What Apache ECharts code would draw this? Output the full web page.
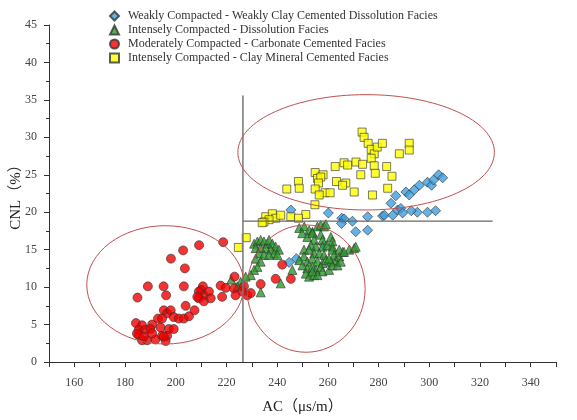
<!DOCTYPE html>
<html>
<head>
<meta charset="utf-8">
<script src="https://cdn.jsdelivr.net/npm/echarts@6/dist/echarts.min.js"></script>
<style>
  html, body { margin: 0; padding: 0; background: #fff; }
  #chart { width: 577px; height: 420px; }
</style>
</head>
<body>
<div id="chart"></div>
<script>
// series names (legend order)
const seriesNames = [
  'Weakly Compacted - Weakly Clay Cemented Dissolution Facies',
  'Intensely Compacted - Dissolution Facies',
  'Moderately Compacted - Carbonate Cemented Facies',
  'Intensely Compacted - Clay Mineral Cemented Facies'
]

// [AC, CNL]
const weaklyClay = [
  [245.4, 20.3], [260.2, 19.9], [265.5, 19.2], [266.4, 19.1], [265.4, 18.5], [269.7, 18.8],
  [271, 17.4], [275.7, 19.4], [275.7, 17.6], [281.6, 19.5], [282.3, 19.6], [285.6, 19.6],
  [284.9, 21.2], [286.8, 22.2], [287.5, 20.3], [288.8, 20.5], [289.5, 19.9], [290.8, 22.7],
  [292.1, 22.3], [294.1, 23.0], [296.1, 23.6], [299.3, 24.0], [300.9, 23.6], [301.7, 24.3],
  [303.7, 25.0], [305.3, 24.6], [302.5, 20.2], [299.3, 20.0], [295.3, 20.0], [292.9, 20.2],
  [244.7, 13.3], [247.6, 13.8], [258.5, 15.6]
]

const dissolution = [
  [230.9, 15.8], [232.2, 16.1], [233.5, 16.3], [234.8, 16.1], [236.1, 15.8], [236.8, 16.3],
  [238.1, 15.8], [239.4, 15.4], [240.7, 15.0], [231.5, 15.2], [233.5, 15.2], [235.5, 15.2],
  [237.5, 15.0], [238.8, 14.5], [240.1, 14.3], [232.8, 14.5], [234.8, 14.3], [236.8, 14.3],
  [231.5, 13.8], [233.5, 13.4], [232.2, 12.7], [230.9, 12.3], [229.6, 11.6], [227.6, 11.4],
  [225.6, 10.7], [224.3, 10.1], [221.9, 11.0], [233.5, 9.3], [241.4, 10.5], [246, 12.3],
  [248.7, 17.9], [250.7, 18.1], [252.6, 17.6], [253.9, 17.4], [255.9, 18.1], [257.2, 18.3],
  [258.5, 18.1], [259.2, 18.4], [249.9, 17.2], [251.9, 16.7], [253.9, 17.2], [254.6, 16.3],
  [257.2, 17.0], [257.9, 16.3], [261.2, 16.7], [261.8, 16.1], [253.3, 15.6], [255.3, 15.4],
  [257.9, 15.4], [259.8, 15.6], [261.8, 15.4], [250.6, 15.0], [252.6, 15.0], [254.6, 14.5],
  [256.6, 14.5], [258.5, 14.3], [261.8, 15.0], [262.5, 14.3], [265.8, 14.7], [268.4, 15.0],
  [270.4, 15.2], [250.6, 14.1], [251.9, 13.4], [253.9, 13.8], [255.9, 13.4], [257.9, 13.2],
  [259.2, 13.6], [261.2, 13.4], [263.2, 13.6], [264.5, 14.1], [248.7, 13.6], [250, 12.9],
  [251.9, 12.5], [253.9, 12.7], [255.3, 12.3], [257.2, 12.7], [257.9, 12.1], [260.5, 12.3],
  [261.8, 12.9], [263.8, 12.9], [265.1, 13.4], [251.3, 11.8], [252.6, 11.4], [254.6, 11.6],
  [255.9, 11.6], [253.9, 12.1], [264.5, 15.0], [266.4, 14.7], [271, 15.4], [260.5, 13.8]
]

const carbonate = [
  [218.7, 16.0], [209.2, 15.6], [202.9, 14.9], [198.1, 13.8], [203.6, 12.5], [189, 10.1],
  [195.2, 10.1], [203.2, 10.1], [184.9, 8.6], [196.2, 8.9], [210.7, 10.1], [210, 9.6],
  [211.1, 8.9], [209.1, 8.5], [211.1, 8.1], [213.1, 9.4], [213.8, 8.5], [209.1, 9.4],
  [208.5, 8.7], [217.7, 10.2], [219.7, 9.9], [218.3, 8.7], [223, 9.8], [223.6, 8.9],
  [226.9, 10.1], [226.3, 9.4], [228.2, 8.9], [229.6, 9.2], [223.2, 11.4], [233.5, 10.4],
  [239.4, 11.1], [242, 13], [245.4, 11.1], [203.9, 7.5], [207.4, 6.9], [195.3, 6.9],
  [196.6, 6.5], [198, 6.9], [199.2, 6.0], [201.2, 5.8], [203.2, 5.8], [205.2, 6.1],
  [184.3, 5.2], [186.7, 4.9], [190.7, 5.0], [185.4, 4.3], [188, 4.3], [190, 4.4],
  [194, 4.6], [197.3, 4.4], [199.2, 4.4], [185.4, 3.6], [186.7, 2.9], [188.7, 2.9],
  [192, 3.0], [194.6, 3.5], [196.6, 3.5], [196, 2.8], [184.7, 3.8], [187.4, 3.4],
  [190.7, 3.8], [195.3, 3.4], [193, 5.8], [194.6, 5.8]
]

const clayMineral = [
  [273.5, 30.7], [274.3, 30.0], [275.9, 29.2], [277.1, 28.4], [278.3, 27.8], [279.5, 28.7],
  [281.5, 29.2], [277.1, 27.2], [292.1, 29.2], [292.1, 28.3], [288.2, 27.8], [266.4, 26.6],
  [262.9, 26.1], [267.8, 26.3], [271.1, 26.7], [273.7, 26.4], [278.3, 26.2], [283.2, 26.1],
  [255, 25.3], [258.1, 25.0], [255.9, 24.5], [257.2, 24.7], [256.3, 23.9], [263.4, 24.1],
  [267.1, 23.9], [265.8, 23.6], [273, 25.0], [278.7, 25.2], [285.3, 24.8], [248.4, 24.1],
  [248.7, 23.2], [243.8, 23.1], [255, 23.1], [258.9, 22.6], [260.9, 22.6], [256.6, 22.3],
  [270.4, 22.7], [277.6, 22.3], [283.6, 23.2], [254.9, 21.0], [251.3, 19.7], [245.4, 19.4],
  [248.4, 19.2], [235.5, 19.4], [238.1, 19.8], [239.4, 19.2], [241.4, 19.6], [236.8, 19.0],
  [234.8, 18.7], [234.1, 18.6], [227.8, 16.6], [224.7, 15.3]
]

// divider lines and facies ellipses (data units)
const verticalLine = [[226.5, 0], [226.5, 35.6]]
const horizontalLine = [[226.5, 18.8], [325, 18.8]]
// [centerAC, centerCNL, radiusAC, radiusCNL]
const ellipses = [
  [275.1, 28.0, 50.6, 7.7],
  [195.9, 10.3, 31.0, 7.9],
  [251.4, 9.8, 23.3, 8.5]
]

const serif = '"Liberation Serif", "Times New Roman", "Noto Sans CJK SC", serif'

const chart = echarts.init(document.getElementById('chart'))

const markerStyle = (color) => ({
  color: color,
  borderColor: '#333',
  borderWidth: 0.8
})

const option = {
  animation: false,
  backgroundColor: '#fff',
  legend: {
    orient: 'vertical',
    left: 104,
    top: 5,
    itemWidth: 9,
    itemHeight: 9,
    itemGap: 2,
    textStyle: {
      fontFamily: serif,
      fontSize: 12,
      lineHeight: 12,
      color: '#333',
      padding: [0, 0, 0, 4]
    },
    data: seriesNames
  },
  grid: {
    left: 49,
    right: 21,
    top: 25,
    bottom: 58,
    containLabel: false,
    outerBoundsMode: 'none'
  },
  xAxis: {
    type: 'value',
    min: 150,
    max: 350,
    interval: 10,
    name: 'AC（μs/m）',
    nameLocation: 'middle',
    nameGap: 38,
    nameMoveOverlap: false,
    nameTextStyle: { fontFamily: serif, fontSize: 15, color: '#222' },
    axisLine: { lineStyle: { color: '#333', width: 1 } },
    axisTick: { show: true, length: 5, lineStyle: { color: '#333' } },
    axisLabel: {
      margin: 15,
      fontFamily: serif,
      fontSize: 12,
      color: '#444',
      formatter: (v) => (v % 20 === 0 ? String(v) : '')
    },
    splitLine: { show: false }
  },
  yAxis: {
    type: 'value',
    min: 0,
    max: 45,
    interval: 5,
    name: 'CNL（%）',
    nameLocation: 'middle',
    nameGap: 25,
    nameMoveOverlap: false,
    nameTextStyle: { fontFamily: serif, fontSize: 15, color: '#222' },
    axisLine: { show: true, lineStyle: { color: '#333', width: 1 } },
    axisTick: { show: true, length: 5, lineStyle: { color: '#333' } },
    minorTick: { show: true, splitNumber: 2, length: 3, lineStyle: { color: '#333' } },
    axisLabel: {
      margin: 12,
      fontFamily: serif,
      fontSize: 12,
      color: '#444'
    },
    splitLine: { show: false }
  },
  series: [
    {
      name: seriesNames[0],
      type: 'scatter',
      symbol: 'diamond',
      symbolSize: 10,
      itemStyle: markerStyle('#3f9fe0'),
      data: weaklyClay
    },
    {
      name: seriesNames[1],
      type: 'scatter',
      symbol: 'triangle',
      symbolSize: 9,
      itemStyle: markerStyle('#2b9a2b'),
      data: dissolution
    },
    {
      name: seriesNames[2],
      type: 'scatter',
      symbol: 'circle',
      symbolSize: 9,
      itemStyle: markerStyle('#f20000'),
      data: carbonate
    },
    {
      name: seriesNames[3],
      type: 'scatter',
      symbol: 'rect',
      symbolSize: 8,
      itemStyle: markerStyle('#ffff00'),
      data: clayMineral
    },
    {
      type: 'line',
      data: verticalLine,
      symbol: 'none',
      silent: true,
      z: 5,
      lineStyle: { color: '#777', width: 1.5 }
    },
    {
      type: 'line',
      data: horizontalLine,
      symbol: 'none',
      silent: true,
      z: 5,
      lineStyle: { color: '#666', width: 1.2 }
    },
    {
      // ellipses drawn through the axis scales
      type: 'custom',
      silent: true,
      z: 6,
      data: ellipses,
      renderItem: (params, api) => {
        const c = api.coord([api.value(0), api.value(1)])
        const s = api.size([api.value(2), api.value(3)])
        return {
          type: 'ellipse',
          shape: { cx: c[0], cy: c[1], rx: s[0], ry: s[1] },
          style: { fill: 'none', stroke: '#c0504d', lineWidth: 1 }
        }
      }
    }
  ]
}

chart.setOption(option)
</script>
</body>
</html>
